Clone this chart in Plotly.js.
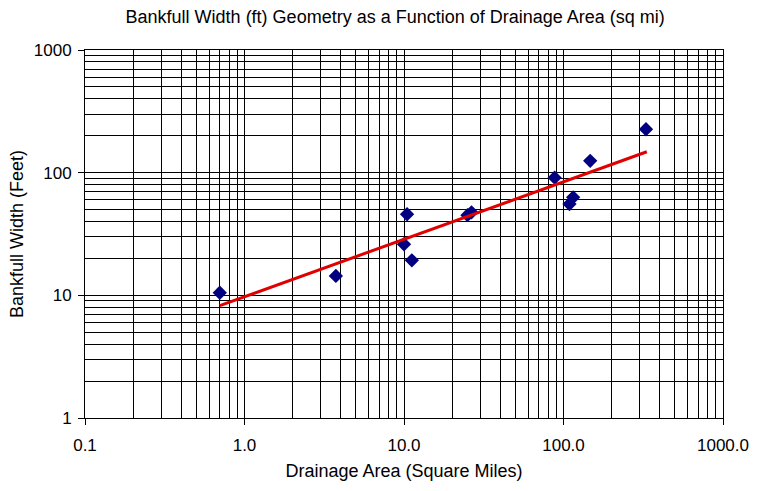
<!DOCTYPE html>
<html>
<head>
<meta charset="utf-8">
<script src="https://cdn.plot.ly/plotly-3.0.1.min.js"></script>
<style>html,body{margin:0;padding:0;background:#fff;}#chart{width:760px;height:491px;}</style>
</head>
<body>
<div id="chart"></div>
<script>
// Observed data: drainage area (sq mi) vs bankfull width (ft)
const drainageArea = [0.70, 3.74, 10.45, 10.0, 11.2, 25.0, 26.5, 88, 109, 115, 147, 329];
const bankfullWidth = [10.5, 14.4, 45.8, 26.1, 19.3, 45.0, 47.5, 91, 55.5, 63, 125, 226];
// Trend line endpoints
const trendArea = [0.70, 333];
const trendWidth = [8.24, 148];

const titleText = 'Bankfull Width (ft) Geometry as a Function of Drainage Area (sq mi)';
const xTitle = 'Drainage Area (Square Miles)';
const yTitle = 'Bankfull Width (Feet)';

const font = 'Liberation Sans, Arial, sans-serif';

const traces = [
  {
    x: drainageArea, y: bankfullWidth, type: 'scatter', mode: 'markers',
    marker: {symbol: 'diamond', size: 11, color: '#000080'},
    showlegend: false, hoverinfo: 'x+y'
  },
  {
    x: trendArea, y: trendWidth, type: 'scatter', mode: 'lines',
    line: {color: '#e00000', width: 3},
    showlegend: false
  }
];

const axisCommon = {
  type: 'log',
  showgrid: true, gridcolor: '#000', gridwidth: 1,
  minor: {dtick: 'D1', showgrid: true, gridcolor: '#000', gridwidth: 1, ticks: ''},
  showline: true, linecolor: '#000', linewidth: 1, mirror: true,
  ticks: 'outside', ticklen: 6, tickcolor: '#000', tickwidth: 1,
  dtick: 1,
  zeroline: false,
  tickfont: {family: font, size: 17, color: '#000'}
};

const layout = {
  width: 760, height: 491,
  margin: {l: 85, r: 37, t: 50, b: 73},
  paper_bgcolor: '#fff', plot_bgcolor: '#fff',
  title: {text: titleText, font: {family: font, size: 18, color: '#000'}, xref: 'container', x: 0.52, xanchor: 'center', y: 0.966, yanchor: 'middle'},
  xaxis: Object.assign({}, axisCommon, {
    range: [-1, 3], tickformat: '.1f', ticklabelstandoff: 6,
    title: {text: xTitle, font: {family: font, size: 18, color: '#000'}, standoff: 9}
  }),
  yaxis: Object.assign({}, axisCommon, {
    range: [0, 3], tickformat: 'd', ticklabelstandoff: 3,
    title: {text: yTitle, font: {family: font, size: 18, color: '#000'}, standoff: 5}
  })
};

Plotly.newPlot('chart', traces, layout, {displayModeBar: false, staticPlot: true});
</script>
</body>
</html>
